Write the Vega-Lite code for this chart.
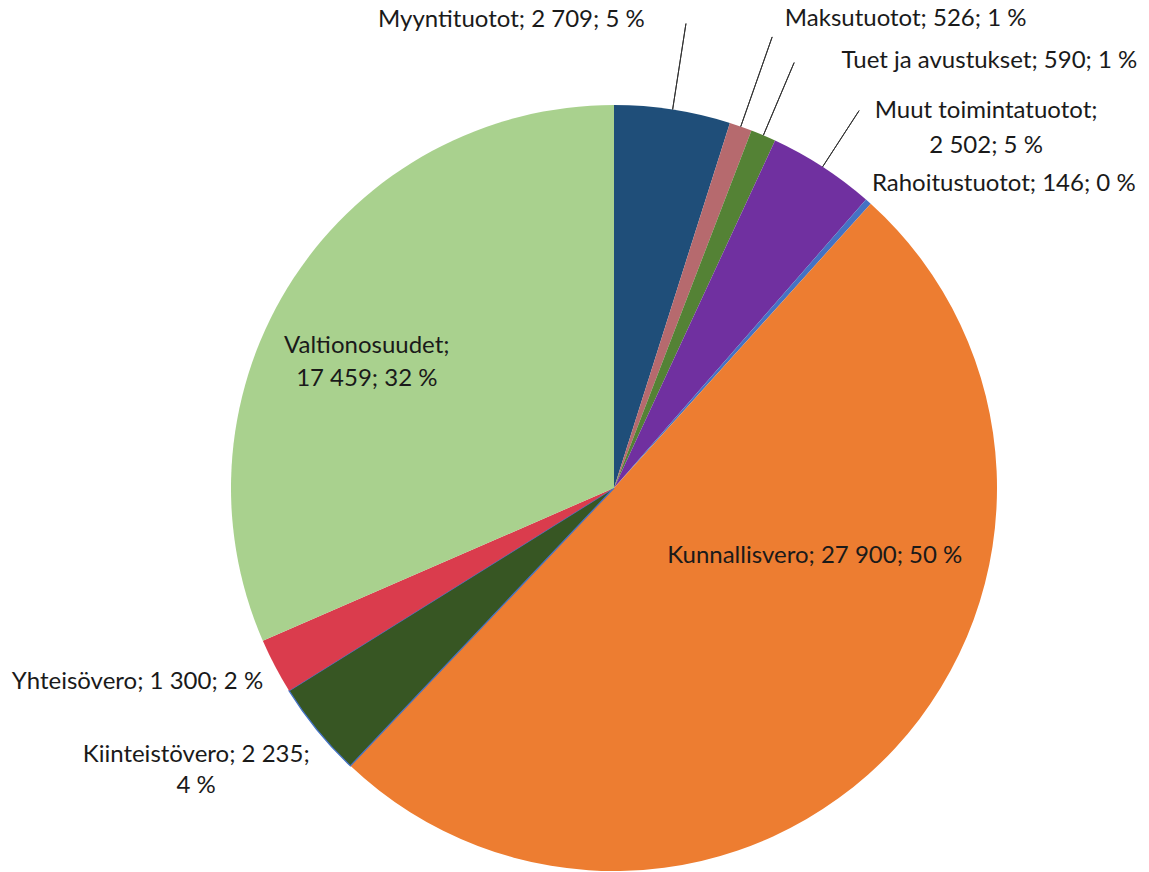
{
  "$schema": "https://vega.github.io/schema/vega-lite/v6.json",
  "autosize": {"type": "none"},
  "width": 1070,
  "height": 768,
  "padding": {"left": 79, "top": 104, "right": 0, "bottom": 0},
  "background": "white",
  "config": {"view": {"stroke": null}},
  "data": {"values": [
    {"i": 1, "name": "Myyntituotot", "value": 2709, "label": "Myyntituotot; 2 709; 5 %"},
    {"i": 2, "name": "Maksutuotot", "value": 526, "label": "Maksutuotot; 526; 1 %"},
    {"i": 3, "name": "Tuet ja avustukset", "value": 590, "label": "Tuet ja avustukset; 590; 1 %"},
    {"i": 4, "name": "Muut toimintatuotot", "value": 2502, "label": "Muut toimintatuotot;\n2 502; 5 %"},
    {"i": 5, "name": "Rahoitustuotot", "value": 146, "label": "Rahoitustuotot; 146; 0 %"},
    {"i": 6, "name": "Kunnallisvero", "value": 27900, "label": "Kunnallisvero; 27 900; 50 %"},
    {"i": 7, "name": "Kiinteistövero", "value": 2235, "label": "Kiinteistövero; 2 235;\n4 %"},
    {"i": 8, "name": "Yhteisövero", "value": 1300, "label": "Yhteisövero; 1 300; 2 %"},
    {"i": 9, "name": "Valtionosuudet", "value": 17459, "label": "Valtionosuudet;\n17 459; 32 %"}
  ]},
  "encoding": {
    "theta": {"field": "value", "type": "quantitative", "stack": true},
    "order": {"field": "i", "type": "quantitative"},
    "detail": {"field": "name", "type": "nominal"}
  },
  "layer": [
    {
      "mark": {"type": "arc", "outerRadius": 383, "stroke": "#4472C4"},
      "encoding": {
        "color": {
          "field": "name", "type": "nominal", "legend": null,
          "scale": {
            "domain": ["Myyntituotot", "Maksutuotot", "Tuet ja avustukset", "Muut toimintatuotot", "Rahoitustuotot", "Kunnallisvero", "Kiinteistövero", "Yhteisövero", "Valtionosuudet"],
            "range": ["#1F4E79", "#B66A6E", "#548235", "#7030A0", "#4472C4", "#ED7D31", "#375623", "#DA3C4D", "#A9D18E"]
          }
        },
        "strokeWidth": {"condition": {"test": "datum.name === 'Kiinteistövero'", "value": 1.3}, "value": 0}
      }
    },
    {
      "mark": {"type": "arc", "innerRadius": 383, "outerRadius": 470, "padAngle": 1.0, "fill": null, "stroke": "#333333", "strokeWidth": 1},
      "encoding": {"strokeOpacity": {"condition": {"test": "datum.name === 'Myyntituotot'", "value": 1}, "value": 0}}
    },
    {
      "mark": {"type": "arc", "innerRadius": 383, "outerRadius": 478, "padAngle": 1.0, "fill": null, "stroke": "#333333", "strokeWidth": 1},
      "encoding": {"strokeOpacity": {"condition": {"test": "datum.name === 'Maksutuotot'", "value": 1}, "value": 0}}
    },
    {
      "mark": {"type": "arc", "innerRadius": 383, "outerRadius": 462, "padAngle": 1.0, "fill": null, "stroke": "#333333", "strokeWidth": 1},
      "encoding": {"strokeOpacity": {"condition": {"test": "datum.name === 'Tuet ja avustukset'", "value": 1}, "value": 0}}
    },
    {
      "mark": {"type": "arc", "innerRadius": 383, "outerRadius": 450, "padAngle": 1.0, "fill": null, "stroke": "#333333", "strokeWidth": 1},
      "encoding": {"strokeOpacity": {"condition": {"test": "datum.name === 'Muut toimintatuotot'", "value": 1}, "value": 0}}
    },
    {
      "mark": {"type": "text", "radius": 475, "dx": -42, "dy": 1, "align": "right", "baseline": "middle", "font": "Lato", "fontSize": 24, "color": "#1a1a1a", "lineBreak": "\n", "lineHeight": 33},
      "encoding": {"text": {"condition": {"test": "datum.name === 'Myyntituotot'", "field": "label", "type": "nominal"}, "value": ""}}
    },
    {
      "mark": {"type": "text", "radius": 480, "dx": 12, "dy": -16, "align": "left", "baseline": "middle", "font": "Lato", "fontSize": 24, "color": "#1a1a1a", "lineBreak": "\n", "lineHeight": 33},
      "encoding": {"text": {"condition": {"test": "datum.name === 'Maksutuotot'", "field": "label", "type": "nominal"}, "value": ""}}
    },
    {
      "mark": {"type": "text", "radius": 440, "dx": 56, "dy": -22, "align": "left", "baseline": "middle", "font": "Lato", "fontSize": 24, "color": "#1a1a1a", "lineBreak": "\n", "lineHeight": 33},
      "encoding": {"text": {"condition": {"test": "datum.name === 'Tuet ja avustukset'", "field": "label", "type": "nominal"}, "value": ""}}
    },
    {
      "mark": {"type": "text", "radius": 450, "dx": 127, "dy": 0, "align": "center", "baseline": "middle", "font": "Lato", "fontSize": 24, "color": "#1a1a1a", "lineBreak": "\n", "lineHeight": 35},
      "encoding": {"text": {"condition": {"test": "datum.name === 'Muut toimintatuotot'", "field": "label", "type": "nominal"}, "value": ""}}
    },
    {
      "mark": {"type": "text", "radius": 420, "dx": -21, "dy": 10, "align": "left", "baseline": "middle", "font": "Lato", "fontSize": 24, "color": "#1a1a1a", "lineBreak": "\n", "lineHeight": 33},
      "encoding": {"text": {"condition": {"test": "datum.name === 'Rahoitustuotot'", "field": "label", "type": "nominal"}, "value": ""}}
    },
    {
      "mark": {"type": "text", "radius": 200, "dx": 54, "dy": -68, "align": "center", "baseline": "middle", "font": "Lato", "fontSize": 24, "color": "#1a1a1a", "lineBreak": "\n", "lineHeight": 33},
      "encoding": {"text": {"condition": {"test": "datum.name === 'Kunnallisvero'", "field": "label", "type": "nominal"}, "value": ""}}
    },
    {
      "mark": {"type": "text", "radius": 440, "dx": -77, "dy": -11, "align": "center", "baseline": "middle", "font": "Lato", "fontSize": 24, "color": "#1a1a1a", "lineBreak": "\n", "lineHeight": 31},
      "encoding": {"text": {"condition": {"test": "datum.name === 'Kiinteistövero'", "field": "label", "type": "nominal"}, "value": ""}}
    },
    {
      "mark": {"type": "text", "radius": 410, "dx": 12, "dy": 3, "align": "right", "baseline": "middle", "font": "Lato", "fontSize": 24, "color": "#1a1a1a", "lineBreak": "\n", "lineHeight": 33},
      "encoding": {"text": {"condition": {"test": "datum.name === 'Yhteisövero'", "field": "label", "type": "nominal"}, "value": ""}}
    },
    {
      "mark": {"type": "text", "radius": 280, "dx": -13, "dy": 11, "align": "center", "baseline": "middle", "font": "Lato", "fontSize": 24, "color": "#1a1a1a", "lineBreak": "\n", "lineHeight": 33},
      "encoding": {"text": {"condition": {"test": "datum.name === 'Valtionosuudet'", "field": "label", "type": "nominal"}, "value": ""}}
    }
  ]
}
